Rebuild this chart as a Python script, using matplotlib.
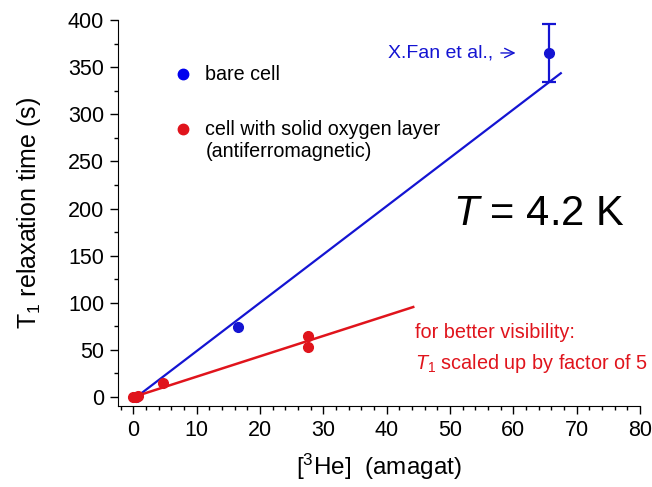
import matplotlib.pyplot as plt
from matplotlib.ticker import MultipleLocator

plt.rcParams.update({
    "font.family": ["Liberation Sans", "DejaVu Sans"],
    "mathtext.fontset": "custom",
    "mathtext.rm": "Liberation Sans",
    "mathtext.it": "Liberation Sans:italic",
    "font.size": 15,
})

BLUE = "#1414d2"
RED = "#e0141c"

# bare cell data
bare_x = [0.5, 16.6]
bare_y = [0.0, 74.0]
bare_fit_x = [0.5, 67.5]
bare_fit_y = [0.0, 343.5]

# X. Fan et al. point
fan_x = [65.6]
fan_y = [365.0]
fan_err = [31.0]

# cell with solid oxygen layer (scaled x5)
ox_x = [0.0, 0.4, 0.8, 4.7, 27.6, 27.6]
ox_y = [0.0, 0.5, 1.0, 15.0, 65.0, 53.0]
ox_fit_x = [0.0, 44.2]
ox_fit_y = [0.0, 95.5]

fig = plt.figure(figsize=(6.52, 4.87), dpi=100)
ax = fig.add_axes([0.181, 0.1663, 0.8006, 0.7927])

ax.plot(bare_fit_x, bare_fit_y, color=BLUE, lw=1.6, zorder=2)
ax.plot(ox_fit_x, ox_fit_y, color=RED, lw=1.8, zorder=2)
ax.plot(bare_x, bare_y, "o", color=BLUE, ms=7, zorder=3)
ax.plot(ox_x, ox_y, "o", color=RED, ms=7, zorder=3)
ax.errorbar(fan_x, fan_y, yerr=fan_err, fmt="o", color=BLUE, ms=7,
            elinewidth=1.6, capsize=5, capthick=1.6, zorder=3)

# legend-like labels
ax.plot([7.9], [342.5], "o", color="#0000ee", ms=7.5, clip_on=False)
ax.text(11.4, 342.5, "bare cell", fontsize=14.2, va="center")
ax.plot([7.9], [284], "o", color=RED, ms=7.5, clip_on=False)
ax.text(11.4, 284, "cell with solid oxygen layer", fontsize=14.2, va="center")
ax.text(11.4, 261, "(antiferromagnetic)", fontsize=14.2, va="center")

ax.text(56.8, 365, "X.Fan et al.,", color=BLUE, fontsize=14,
        ha="right", va="center")
ax.annotate("", xy=(60.8, 365), xytext=(57.6, 365),
            arrowprops=dict(arrowstyle="->,head_length=0.45,head_width=0.22",
                            color=BLUE, lw=1.0))
ax.text(50.5, 194, "$T$ = 4.2 K", fontsize=30, va="center")
ax.text(44.5, 69, "for better visibility:", color=RED, fontsize=14.3, va="center")
ax.text(44.5, 36, "$T_1$ scaled up by factor of 5", color=RED, fontsize=14.3,
        va="center")

ax.set_xlim(-2.4, 80)
ax.set_ylim(-9.5, 400)
ax.xaxis.set_major_locator(MultipleLocator(10))
ax.xaxis.set_minor_locator(MultipleLocator(2))
ax.yaxis.set_major_locator(MultipleLocator(50))
ax.yaxis.set_minor_locator(MultipleLocator(25))
ax.spines["top"].set_visible(False)
ax.spines["right"].set_visible(False)
ax.tick_params(which="major", direction="out", length=6, width=1,
               labelsize=15.5, pad=4)
ax.tick_params(which="minor", direction="out", length=3, width=1)

ax.set_xlabel("[$^3$He]  (amagat)", fontsize=17.5, labelpad=8)
ax.set_ylabel("T$_1$ relaxation time (s)", fontsize=18, labelpad=18)

fig.savefig("out.png", dpi=100)
